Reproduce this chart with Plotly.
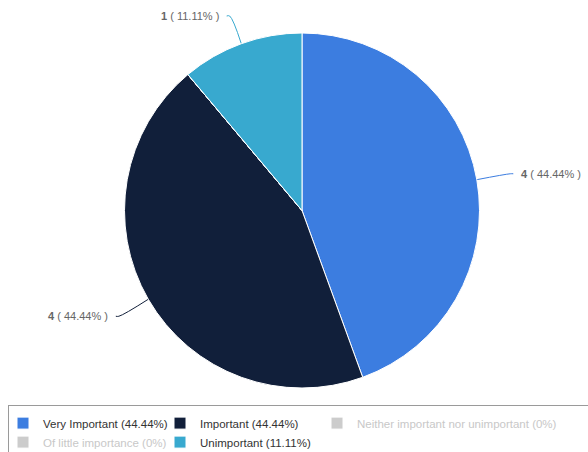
import math
import plotly.graph_objects as go

# Survey answers and respondent counts
categories = [
    "Very Important",
    "Important",
    "Neither important nor unimportant",
    "Of little importance",
    "Unimportant",
]
counts = [4, 4, 0, 0, 1]
slice_colors = ["#3c7de0", "#111f3a", "#cccccc", "#cccccc", "#38a9cf"]

W, H = 588, 452
CX, CY, R = 302.0, 210.5, 177.5      # pie centre and radius in pixels
LABEL_DIST = 34.0                     # connector length beyond the rim
LABEL_TOP = 16.0                      # keep slice labels inside the page

total = sum(counts)


def pct_text(v):
    p = round(v / total * 100, 2)
    return f"{p:.2f}".rstrip("0").rstrip(".")


legend_labels = []
for name, v in zip(categories, counts):
    txt = f"{name} ({pct_text(v)}%)"
    if v == 0:
        txt = f"<span style='color:#c8c8c8'>{txt}</span>"
    legend_labels.append(txt)

fig = go.Figure()

# pixel-space axes used for the connector lines and slice labels
fig.update_xaxes(range=[0, W], visible=False, fixedrange=True, domain=[0, 1])
fig.update_yaxes(range=[H, 0], visible=False, fixedrange=True, domain=[0, 1])

fig.add_trace(go.Pie(
    labels=legend_labels,
    values=counts,
    sort=False,
    direction="clockwise",
    rotation=0,
    marker=dict(colors=slice_colors, line=dict(color="#ffffff", width=1)),
    textinfo="none",
    hoverinfo="skip",
    domain=dict(x=[(CX - R) / W, (CX + R) / W],
                y=[1 - (CY + R) / H, 1 - (CY - R) / H]),
))

annotations = []
start = 0.0
for name, v, col in zip(categories, counts, slice_colors):
    if v == 0:
        continue
    span = v / total * 360.0
    mid = math.radians(start + span / 2)
    start += span
    sx, sy = math.sin(mid), -math.cos(mid)
    x0, y0 = CX + R * sx, CY + R * sy
    x1, y1 = CX + (R + LABEL_DIST) * sx, CY + (R + LABEL_DIST) * sy
    y1 = max(y1, LABEL_TOP)
    side = 1 if sx >= 0 else -1
    x2 = x1 + side * 3
    fig.add_trace(go.Scatter(
        x=[x0, x1, x2], y=[y0, y1, y1],
        mode="lines", line=dict(color=col, width=1, shape="spline"),
        hoverinfo="skip", showlegend=False,
    ))
    annotations.append(dict(
        x=x2, y=y1, xref="x", yref="y",
        text=f"<b>{v}</b> ( {pct_text(v)}% )",
        showarrow=False,
        xanchor="left" if side > 0 else "right",
        xshift=6 * side,
        font=dict(family="Liberation Sans, Arial, sans-serif", size=11, color="#666666"),
    ))

# an invisible run of no-break spaces stretches the legend frame across the page
legend_spacer = "\u00a0" * 1100

fig.update_layout(
    width=W, height=H,
    margin=dict(l=0, r=0, t=0, b=0, autoexpand=False),
    paper_bgcolor="#ffffff",
    plot_bgcolor="rgba(0,0,0,0)",
    annotations=annotations,
    showlegend=True,
    legend=dict(
        orientation="h",
        x=8 / W, y=1 - 405 / H,
        xanchor="left", yanchor="top",
        entrywidth=118,
        indentation=-6,
        title=dict(text=legend_spacer, side="top", font=dict(size=2)),
        font=dict(family="Liberation Sans, Arial, sans-serif", size=11.5, color="#333333"),
        bgcolor="#ffffff",
        bordercolor="#9a9a9a",
        borderwidth=1,
        tracegroupgap=0,
    ),
)

fig.write_html("out.html")
